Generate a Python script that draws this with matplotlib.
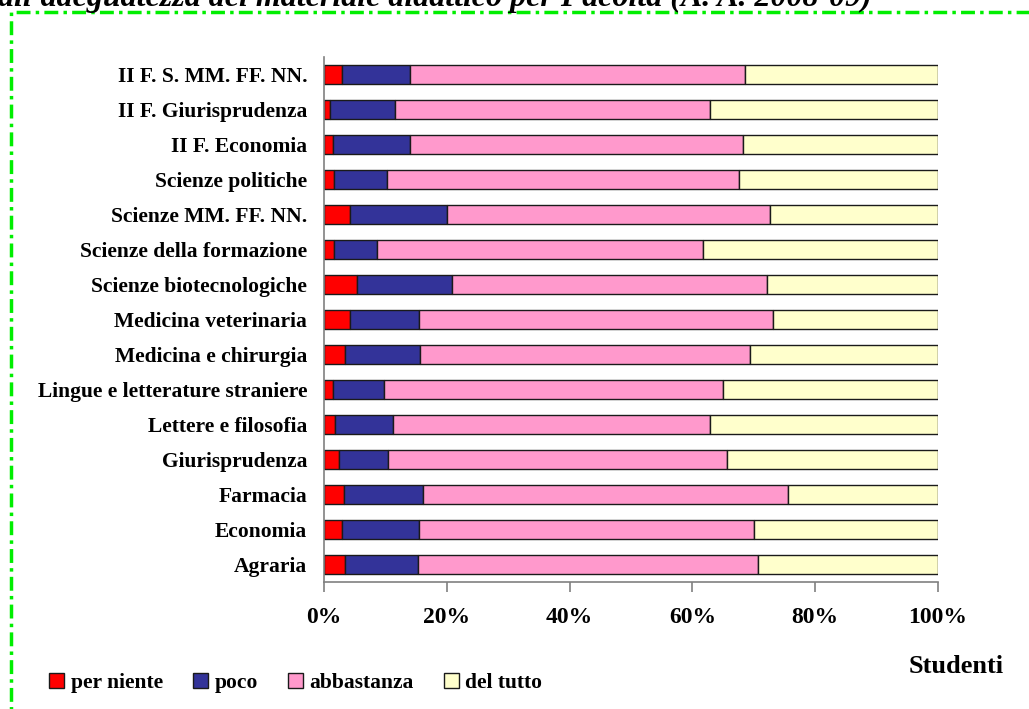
import matplotlib
matplotlib.use("Agg")
import matplotlib.pyplot as plt
from matplotlib.patches import Rectangle
import numpy as np

categories = [
    "Agraria", "Economia", "Farmacia", "Giurisprudenza", "Lettere e filosofia",
    "Lingue e letterature straniere", "Medicina e chirurgia", "Medicina veterinaria",
    "Scienze biotecnologiche", "Scienze della formazione", "Scienze MM. FF. NN.",
    "Scienze politiche", "II F. Economia", "II F. Giurisprudenza", "II F. S. MM. FF. NN.",
]
per_niente = [3.4, 3.0, 3.3, 2.5, 1.8, 1.4, 3.5, 4.2, 5.3, 1.6, 4.3, 1.6, 1.5, 1.0, 2.9]
poco       = [11.9, 12.5, 12.9, 7.9, 9.4, 8.3, 12.1, 11.2, 15.5, 7.0, 15.8, 8.7, 12.5, 10.6, 11.1]
abbastanza = [55.4, 54.6, 59.4, 55.2, 51.6, 55.3, 53.7, 57.8, 51.4, 53.2, 52.5, 57.3, 54.3, 51.3, 54.6]
del_tutto  = [29.3, 29.9, 24.4, 34.4, 37.2, 35.0, 30.7, 26.8, 27.8, 38.2, 27.4, 32.4, 31.7, 37.1, 31.4]
series_names = ["per niente", "poco", "abbastanza", "del tutto"]
series_colors = ["#FF0000", "#333399", "#FF99CC", "#FFFFCC"]
xticks = [0, 20, 40, 60, 80, 100]
xticklabels = ["0%", "20%", "40%", "60%", "80%", "100%"]
title_text = "all'adeguatezza del materiale didattico per Facoltà (A. A. 2008-09)"
xlabel_text = "Studenti"

W, H = 1029, 709
fig = plt.figure(figsize=(W / 100, H / 100), dpi=100)
serif = ["Liberation Serif", "DejaVu Serif"]
plt.rcParams["font.family"] = serif

ax = fig.add_axes([324 / W, 1 - 582 / H, (938 - 324) / W, (582 - 57) / H])

data = np.array([per_niente, poco, abbastanza, del_tutto], dtype=float)
data = data / data.sum(axis=0) * 100
y = np.arange(len(categories))
left = np.zeros(len(categories))
for vals, name, col in zip(data, series_names, series_colors):
    ax.barh(y, vals, left=left, height=0.53, color=col, edgecolor="#1a1a1a",
            linewidth=1.0, label=name)
    left += vals

ax.set_xlim(0, 100)
ax.set_ylim(-0.5, len(categories) - 0.5)
ax.set_yticks(y)
ax.set_yticklabels(categories, fontsize=15.5, fontweight="bold")
ax.set_xticks(xticks)
ax.set_xticklabels(xticklabels, fontsize=17, fontweight="bold")
ax.tick_params(axis="y", length=0, pad=12)
ax.tick_params(axis="x", length=7, width=1.2, color="#808080", pad=11, direction="out")
for s in ["top", "right"]:
    ax.spines[s].set_visible(False)
for s in ["left", "bottom"]:
    ax.spines[s].set_color("#808080")
    ax.spines[s].set_linewidth(1.2)

# Title (clipped at top, as in the reference)
fig.text(-2 / W, 1 - 6 / H, title_text, fontsize=23, fontweight="bold",
         fontstyle="italic", ha="left", va="baseline")

# Axis label
fig.text(909 / W, 1 - 673 / H, xlabel_text, fontsize=19, fontweight="bold",
         ha="left", va="baseline")

# Legend
handles, labels = ax.get_legend_handles_labels()
leg = fig.legend(handles, labels, ncol=4, frameon=False, loc="center left",
                 bbox_to_anchor=(49 / W, 1 - 683 / H), fontsize=15.5,
                 handlelength=0.7, handleheight=0.7, handletextpad=0.3,
                 columnspacing=1.4, borderaxespad=0, borderpad=0)
for t in leg.get_texts():
    t.set_fontweight("bold")

# Dash-dot green border
border = Rectangle((11 / W, -0.05), 1.1, 1 - 12 / H + 0.05, transform=fig.transFigure,
                   fill=False, edgecolor="#00ee00", linewidth=2.5,
                   linestyle=(0, (4, 1.5, 1, 1.5)), clip_on=False)
fig.add_artist(border)

fig.savefig("out.png", dpi=100)
